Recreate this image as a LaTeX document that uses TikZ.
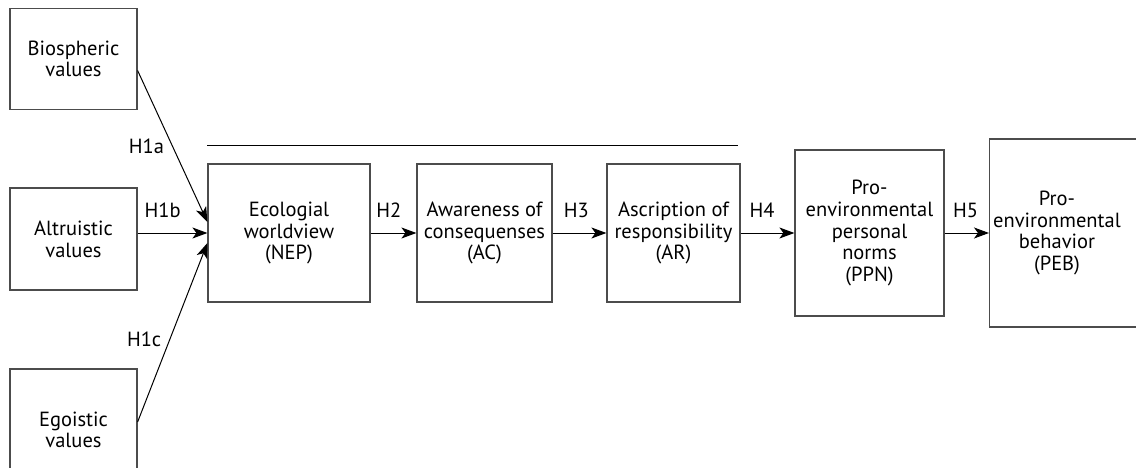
\documentclass[tikz,border=0pt]{standalone}
\usepackage{fontspec}
\setmainfont{PT Sans}
\usetikzlibrary{arrows.meta}
\begin{document}
\begin{tikzpicture}[x=1pt, y=-1pt,
    box/.style={draw=black!70, line width=1.2pt, align=center, inner sep=0pt, font=\fontsize{20.5}{21.7}\selectfont},
    arr/.style={-{Stealth[length=15pt, width=11pt, inset=4pt]}, line width=1pt},
    hyp/.style={font=\fontsize{20.5}{21.7}\selectfont, inner sep=2pt}]
    \useasboundingbox (0,0) rectangle (1136,468);
    \clip (0,0) rectangle (1136,468);

    % Value boxes
    \node[box, minimum width=127pt, minimum height=101pt] (bio) at (73.5,59) {Biospheric\\values};
    \node[box, minimum width=127pt, minimum height=102pt] (alt) at (73.5,239) {Altruistic\\values};
    \node[box, minimum width=127pt, minimum height=122pt] (ego) at (73.5,430) {Egoistic\\values};

    % Chain
    \node[box, minimum width=162pt, minimum height=138pt] (nep) at (289,233) {Ecologial\\worldview\\(NEP)};
    \node[box, minimum width=135pt, minimum height=138pt] (ac) at (484.5,233) {Awareness of\\consequenses\\(AC)};
    \node[box, minimum width=133pt, minimum height=138pt] (ar) at (673.5,233) {Ascription of\\responsibility\\(AR)};
    \node[box, minimum width=149pt, minimum height=166pt] (ppn) at (869.5,233) {Pro-\\environmental\\personal\\norms\\(PPN)};
    \node[box, minimum width=160pt, minimum height=188pt, anchor=west] (peb) at (989,233) {};
    \node[box, draw=none] (pebtext) at (1057,233) {Pro-\\environmental\\behavior\\(PEB)};

    \draw[line width=1pt] (nep.north west |- 0,146) -- (738,146);

    % Hypotheses
    \draw[arr] ([yshift=-11.5pt]bio.east) -- node[hyp, pos=0.5, left=6pt] {H1a} ([yshift=11pt]nep.west);
    \draw[arr] (alt.east |- nep.west) -- node[hyp, pos=0.36, above=13pt] {H1b} (nep.west);
    \draw[arr] ([yshift=8pt]ego.east) -- node[hyp, pos=0.46, left=6pt] {H1c} ([yshift=-10pt]nep.west);
    \draw[arr] (nep.east) -- node[hyp, pos=0.4, above=13pt] {H2} (ac.west);
    \draw[arr] (ac.east) -- node[hyp, pos=0.44, above=13pt] {H3} (ar.west);
    \draw[arr] (ar.east) -- node[hyp, pos=0.4, above=13pt] {H4} (ppn.west);
    \draw[arr] (ppn.east) -- node[hyp, pos=0.47, above=13pt] {H5} (peb.west);
\end{tikzpicture}
\end{document}
